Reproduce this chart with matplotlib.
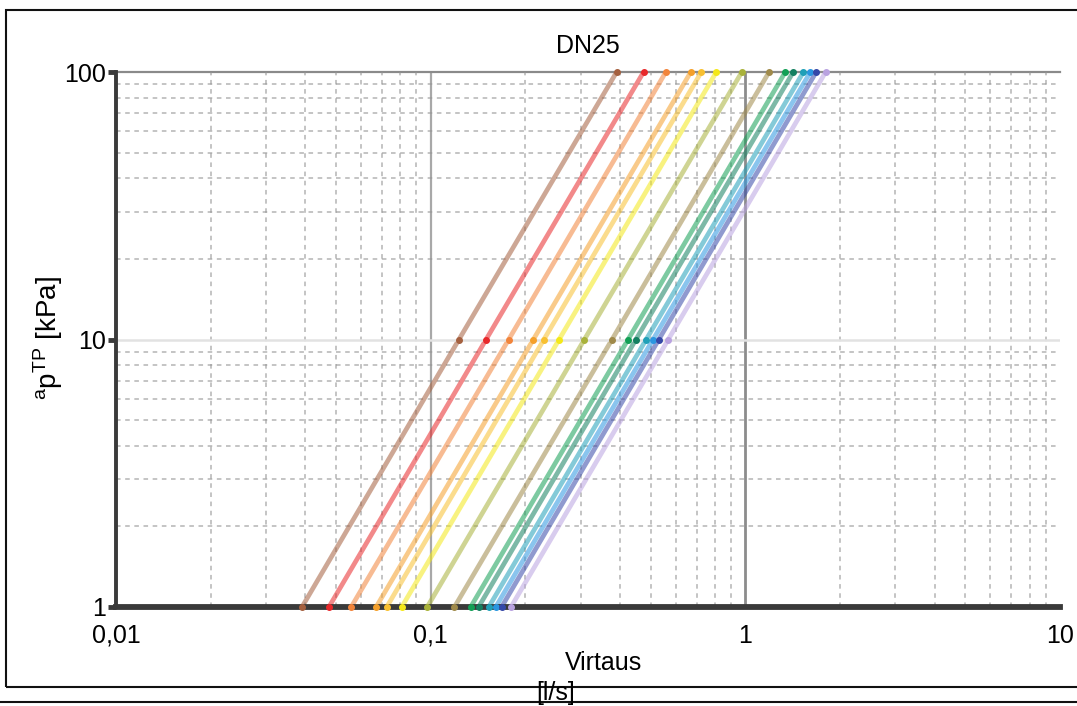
import matplotlib
matplotlib.use("Agg")
import matplotlib.pyplot as plt
from matplotlib.ticker import FixedLocator, NullFormatter, LogLocator
from matplotlib.lines import Line2D
from matplotlib.patches import Rectangle

plt.rcParams['font.family'] = ['Liberation Sans', 'DejaVu Sans']
plt.rcParams['mathtext.fontset'] = 'custom'
plt.rcParams['mathtext.rm'] = 'Liberation Sans'
plt.rcParams['mathtext.it'] = 'Liberation Sans'

# Pressure-drop points of each preset curve [kPa]
dp_points = [1, 10, 100]

# Flow rate [l/s] of each preset at 1, 10 and 100 kPa
q_1kpa = [0.039, 0.0475, 0.0559, 0.0671, 0.0725, 0.0809, 0.0975,
          0.119, 0.134, 0.142, 0.153, 0.161, 0.168, 0.180]
q_10kpa = [0.123, 0.150, 0.177, 0.212, 0.229, 0.256, 0.308,
           0.377, 0.424, 0.449, 0.484, 0.509, 0.531, 0.569]
q_100kpa = [0.39, 0.475, 0.559, 0.671, 0.725, 0.809, 0.975,
            1.19, 1.34, 1.42, 1.53, 1.61, 1.68, 1.80]

colors = ['#a5603f', '#e8282a', '#f2843a', '#f5a02a', '#f8c030', '#f4e818',
          '#a9b23a', '#a08a4a', '#12a055', '#138060', '#1fa0b8', '#2a96e0',
          '#3548a8', '#b9a2e0']

x_ticks = [0.01, 0.1, 1, 10]
x_tick_labels = ['0,01', '0,1', '1', '10']
y_ticks = [1, 10, 100]
y_tick_labels = ['1', '10', '100']

fig = plt.figure(figsize=(10.77, 7.06), dpi=100)
ax = fig.add_axes([116 / 1077, 1 - 607 / 706, (1060 - 116) / 1077, (607 - 72) / 706])
ax.set_xscale('log')
ax.set_yscale('log')
ax.set_xlim(x_ticks[0], x_ticks[-1])
ax.set_ylim(y_ticks[0], y_ticks[-1])

# minor dashed grid
ax.xaxis.set_minor_locator(LogLocator(base=10, subs=range(2, 10)))
ax.yaxis.set_minor_locator(LogLocator(base=10, subs=range(2, 10)))
ax.xaxis.set_minor_formatter(NullFormatter())
ax.yaxis.set_minor_formatter(NullFormatter())
ax.grid(which='minor', axis='both', color='#959595', lw=1.1,
        linestyle=(0, (3, 3)), alpha=0.7, zorder=0)
ax.tick_params(which='minor', length=0)

# major grid lines
ax.axvline(x_ticks[1], color='#a8a8a8', lw=1.6, zorder=1)
ax.axvline(x_ticks[2], color='#8c8c8c', lw=2.0, zorder=1)
ax.axhline(y_ticks[2], color='#8a8a8a', lw=1.6, zorder=1, clip_on=False)

# preset curves
for q1, q10, q100, c in zip(q_1kpa, q_10kpa, q_100kpa, colors):
    ax.plot([q1, q10, q100], dp_points, color=c, lw=3.4, alpha=0.55,
            solid_capstyle='butt', zorder=3)

ax.axhline(y_ticks[1], color='#e2e2e2', lw=1.8, zorder=4)

for q1, q10, q100, c in zip(q_1kpa, q_10kpa, q_100kpa, colors):
    ax.plot([q1, q10, q100], dp_points, linestyle='none', marker='o',
            ms=4.0, mec=c, mfc=c, zorder=6, clip_on=False)

# spines
for side in ('top', 'right'):
    ax.spines[side].set_visible(False)
ax.spines['left'].set_color('#3a3a3a')
ax.spines['left'].set_linewidth(2.8)
ax.spines['bottom'].set_color('#3a3a3a')
ax.spines['bottom'].set_linewidth(4.2)
ax.spines['bottom'].set_zorder(5)
ax.spines['left'].set_zorder(5)

ax.xaxis.set_major_locator(FixedLocator(x_ticks))
ax.set_xticklabels(x_tick_labels)
ax.yaxis.set_major_locator(FixedLocator(y_ticks))
ax.set_yticklabels(y_tick_labels)
ax.tick_params(axis='x', which='major', length=0, pad=12, labelsize=18)
ax.tick_params(axis='y', which='major', length=6, width=3.5,
               color='#3a3a3a', pad=1, labelsize=18)

ax.set_title('DN25', fontsize=18, pad=14)
fig.text(48 / 1077, 1 - 338 / 706,
         r'$^{\mathrm{a}}\mathrm{p}^{\mathrm{TP}}$ [kPa]', fontsize=20,
         rotation=90, ha='center', va='center')
fig.text(604 / 1077, 1 - 663 / 706, 'Virtaus', fontsize=18, ha='center', va='center')
fig.text(556 / 1077, 1 - 693 / 706, '[l/s]', fontsize=18, ha='center', va='center')

# outer frame
fig.patches.append(Rectangle((6 / 1077, 1 - 687 / 706), 1.1, (687 - 10) / 706,
                             transform=fig.transFigure, fill=False,
                             edgecolor='#111111', lw=1.5))
fig.lines.append(Line2D([0, 1], [1 - 702 / 706] * 2, transform=fig.transFigure,
                        color='#111111', lw=1.5))

fig.savefig('out.png', dpi=100)
